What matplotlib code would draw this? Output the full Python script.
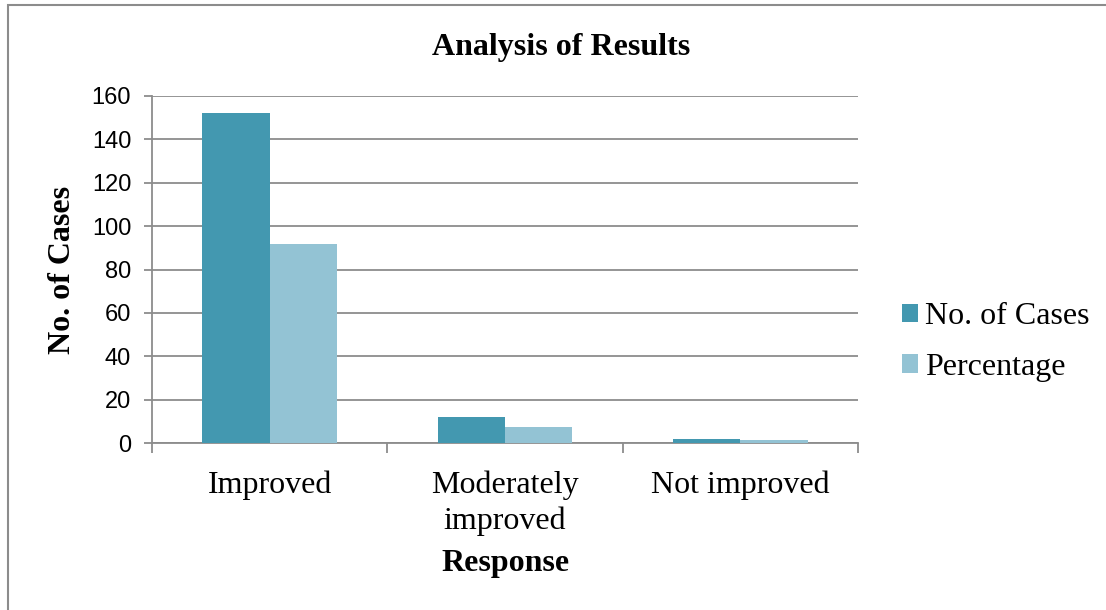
import numpy as np
import matplotlib.pyplot as plt
from matplotlib.patches import Rectangle

# Données du graphique
categories = ["Improved", "Moderately\nimproved", "Not improved"]
cases = [152, 12, 2]
percentage = [91.6, 7.2, 1.2]
series_names = ["No. of Cases", "Percentage"]

dark = "#4398b0"
light = "#93c3d4"
grid_col = "#8c8c8c"
serif = "Liberation Serif"
W, H = 1106, 610

fig = plt.figure(figsize=(W / 100, H / 100), dpi=100)
ax = fig.add_axes([152 / W, 1 - 443 / H, 706 / W, 347 / H])

# cadre extérieur du graphique (haut et gauche visibles)
fig.patches.append(Rectangle((8 / W, -0.1), 1.2, 1 - 5 / H + 0.1,
                             transform=fig.transFigure, fill=False,
                             edgecolor="#8c8c8c", linewidth=1.5))

x = np.arange(len(categories))
w = 1 / 3.5
ax.bar(x - w / 2, cases, width=w, color=dark, label=series_names[0], zorder=3)
ax.bar(x + w / 2, percentage, width=w, color=light, label=series_names[1], zorder=3)

ax.set_xlim(-0.5, 2.5)
ax.set_ylim(0, 160)
ax.set_yticks(np.arange(0, 161, 20))
ax.yaxis.grid(True, color=grid_col, linewidth=1.3, zorder=0)
ax.set_axisbelow(True)

for s in ["top", "right"]:
    ax.spines[s].set_visible(False)
for s in ["left", "bottom"]:
    ax.spines[s].set_color(grid_col)
    ax.spines[s].set_linewidth(1.3)

# graduations entre les catégories, libellés au centre
ax.set_xticks([-0.5, 0.5, 1.5, 2.5])
ax.set_xticklabels([])
ax.tick_params(axis="x", length=7, color=grid_col, width=1.3)
ax.set_xticks(x, minor=True)
ax.set_xticklabels(categories, minor=True, fontsize=23, family=serif)
ax.tick_params(axis="x", which="minor", length=0, pad=19.5)
for lbl in ax.get_xticklabels(minor=True):
    lbl.set_linespacing(1.3)
ax.tick_params(axis="y", length=6, color=grid_col, width=1.3, labelsize=17, pad=9)
for lbl in ax.get_yticklabels():
    lbl.set_family("Liberation Sans")

fig.text(0.5 * (432 + 690) / W, 1 - 47 / H, "Analysis of Results", fontsize=23,
         fontweight="bold", family=serif, ha="center", va="center")
ax.set_ylabel("No. of Cases", fontsize=23, fontweight="bold", family=serif, va="center")
ax.yaxis.set_label_coords((63 - 152) / 706, 0.5)
ax.set_xlabel("Response", fontsize=23, fontweight="bold", family=serif, va="center")
ax.xaxis.set_label_coords(0.5, (443 - 563) / 347)

fig.legend(loc="center left", bbox_to_anchor=(902 / W, 1 - 342 / H),
           bbox_transform=fig.transFigure, frameon=False,
           prop={"family": serif, "size": 23}, handlelength=0.5, handleheight=0.5,
           handletextpad=0.22, labelspacing=0.68, borderaxespad=0, borderpad=0)

fig.savefig("out.png", dpi=100)
